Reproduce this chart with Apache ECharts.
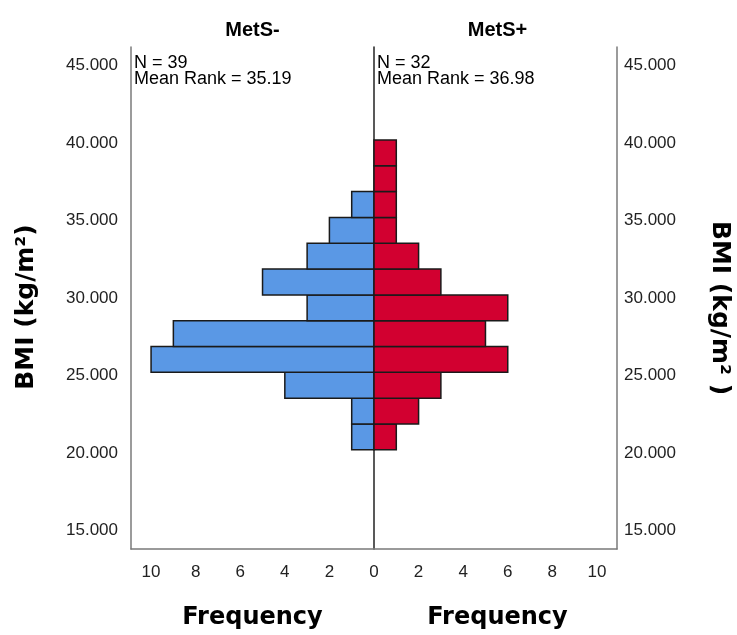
<!DOCTYPE html>
<html>
<head>
<meta charset="utf-8">
<title>BMI by MetS</title>
<script src="https://cdn.jsdelivr.net/npm/echarts@6/dist/echarts.min.js"></script>
<style>
  html, body { margin: 0; padding: 0; background: #fff; }
  #chart { width: 737px; height: 635px; }
</style>
</head>
<body>
<div id="chart"></div>
<script>
// bin edges (BMI), 12 bins
const binEdges = [20.2, 21.87, 23.53, 25.2, 26.87, 28.53, 30.2, 31.87, 33.53, 35.2, 36.87, 38.53, 40.2]
// counts per bin, bottom -> top
const metsNeg = [1, 1, 4, 10, 9, 3, 5, 3, 2, 1, 0, 0]
const metsPos = [1, 2, 3, 6, 5, 6, 3, 2, 1, 1, 1, 1]
const yTicks = [15, 20, 25, 30, 35, 40, 45]
const groups = ['MetS-', 'MetS+']
const stats = [
  { n: 39, rank: '35.19' },
  { n: 32, rank: '36.98' },
]

const FONT = '"Liberation Sans", Arial, sans-serif'
const WIDE = '"DejaVu Sans", sans-serif'
const GRAY = '#7a7a7a'
const BLUE = '#5a98e5'
const RED = '#d20030'

function toBins(counts) {
  return counts.map((c, i) => [binEdges[i], binEdges[i + 1], c])
}

function renderBar(params, api) {
  const lo = api.value(0), hi = api.value(1), c = api.value(2)
  if (!c) return null
  const p0 = api.coord([0, lo])
  const p1 = api.coord([c, hi])
  return {
    type: 'rect',
    shape: {
      x: Math.min(p0[0], p1[0]), y: Math.min(p0[1], p1[1]),
      width: Math.abs(p1[0] - p0[0]), height: Math.abs(p1[1] - p0[1]),
    },
    style: api.style({ stroke: '#1a1a1a', lineWidth: 1.5 }),
  }
}

const yBase = {
  type: 'value', min: 13.8, max: 46.2,
  axisTick: { show: false },
  splitLine: { show: false },
}
const yLabel = {
  customValues: yTicks,
  color: '#222', fontSize: 17, fontFamily: FONT,
  formatter: v => v.toFixed(3),
}
const xBase = {
  type: 'value', min: 0, max: 10.9, interval: 2,
  axisTick: { show: false },
  splitLine: { show: false },
  axisLine: { show: true, onZero: false, lineStyle: { color: GRAY, width: 1.5 } },
}

const chart = echarts.init(document.getElementById('chart'), null, { renderer: 'canvas' })

const texts = []
groups.forEach((g, i) => {
  const cx = i === 0 ? 252.5 : 497.5
  const lx = i === 0 ? 134 : 377
  texts.push({ type: 'text', x: cx, y: 30, style: { text: g, fill: '#000', font: 'bold 20px ' + FONT, align: 'center', verticalAlign: 'middle' } })
  texts.push({ type: 'text', x: lx, y: 63.5, style: { text: 'N = ' + stats[i].n, fill: '#000', font: '18px ' + FONT, align: 'left', verticalAlign: 'middle' } })
  texts.push({ type: 'text', x: lx, y: 79.5, style: { text: 'Mean Rank = ' + stats[i].rank, fill: '#000', font: '18px ' + FONT, align: 'left', verticalAlign: 'middle' } })
  texts.push({ type: 'text', x: cx, y: 618, style: { text: 'Frequency', fill: '#000', font: 'bold 24px ' + WIDE, align: 'center', verticalAlign: 'middle' } })
})
texts.push({ type: 'text', x: 26, y: 307, rotation: Math.PI / 2, style: { text: 'BMI (kg/m²)', fill: '#000', font: 'bold 25px ' + WIDE, align: 'center', verticalAlign: 'middle' } })
texts.push({ type: 'text', x: 719, y: 308, rotation: -Math.PI / 2, style: { text: 'BMI (kg/m² )', fill: '#000', font: 'bold 25px ' + WIDE, align: 'center', verticalAlign: 'middle' } })

chart.setOption({
  animation: false,
  backgroundColor: '#fff',
  grid: [
    { left: 131, right: 363, top: 47, bottom: 86 },
    { left: 374, right: 120, top: 47, bottom: 86 },
  ],
  xAxis: [
    {
      ...xBase, gridIndex: 0, inverse: true,
      axisLabel: { color: '#222', fontSize: 17, fontFamily: FONT, margin: 15 },
    },
    {
      ...xBase, gridIndex: 1,
      axisLabel: { color: '#222', fontSize: 17, fontFamily: FONT, margin: 15, formatter: v => (v === 0 ? '' : String(v)) },
    },
  ],
  yAxis: [
    {
      ...yBase, gridIndex: 0, position: 'left',
      axisLine: { show: true, onZero: false, lineStyle: { color: GRAY, width: 1.5 } },
      axisLabel: { ...yLabel, margin: 13 },
    },
    {
      ...yBase, gridIndex: 1, position: 'right',
      axisLine: { show: true, onZero: false, lineStyle: { color: GRAY, width: 1.5 } },
      axisLabel: { ...yLabel, margin: 7 },
    },
    {
      ...yBase, gridIndex: 1, position: 'left',
      axisLine: { show: true, onZero: false, lineStyle: { color: '#222', width: 1.5 } },
      axisLabel: { show: false },
    },
  ],
  series: [
    {
      type: 'custom', name: groups[0], xAxisIndex: 0, yAxisIndex: 0,
      renderItem: renderBar, data: toBins(metsNeg),
      itemStyle: { color: BLUE }, z: 2,
    },
    {
      type: 'custom', name: groups[1], xAxisIndex: 1, yAxisIndex: 1,
      renderItem: renderBar, data: toBins(metsPos),
      itemStyle: { color: RED }, z: 2,
    },
  ],
  graphic: texts,
})
</script>
</body>
</html>
